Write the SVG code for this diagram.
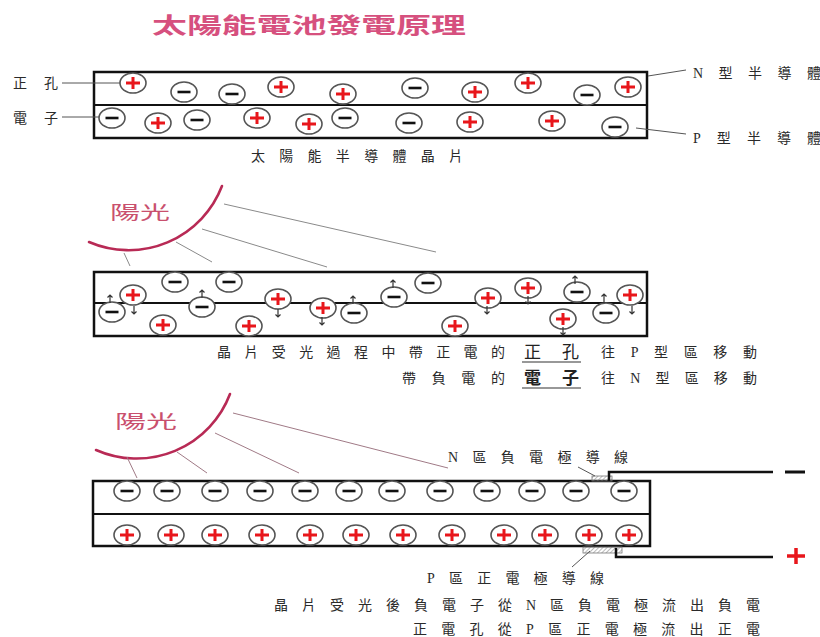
<svg xmlns="http://www.w3.org/2000/svg" xmlns:xlink="http://www.w3.org/1999/xlink" width="820" height="637" viewBox="0 0 820 637">
  <style>
    .box { fill: none; stroke: #111; stroke-width: 2.5; }
    .div { stroke: #111; stroke-width: 2; }
    .lead { stroke: #555; stroke-width: 1; fill: none; }
    .ray { stroke: #8a8a8a; stroke-width: 1; }
    .ray2 { stroke: #a07a86; stroke-width: 1; }
    .sun { fill: none; stroke: #b82a55; stroke-width: 2.6; stroke-linecap: round; }
    .sunlabel { font-family: "Noto Sans CJK TC", "Liberation Sans", sans-serif; font-size: 18px; fill: #c9506e; }
    .t { font-family: "Liberation Serif", "Noto Sans CJK TC", serif; font-size: 14px; fill: #2a2a2a; }
    .big { font-family: "Noto Sans CJK TC", sans-serif; font-size: 17px; fill: #222; }
    .ul { stroke: #333; stroke-width: 1.2; }
    .wire { fill: none; stroke: #111; stroke-width: 2.5; }
    .hatchbox { fill: url(#hatch); stroke: #777; stroke-width: 0.8; }
  </style>
  <defs>
    <pattern id="hatch" width="3" height="3" patternUnits="userSpaceOnUse" patternTransform="rotate(45)">
      <line x1="0" y1="0" x2="0" y2="3" stroke="#777" stroke-width="1"/>
    </pattern>
    <!-- hole (positive charge) -->
    <g id="pos">
      <ellipse rx="13" ry="10" fill="#fff" stroke="#555" stroke-width="1.6"/>
      <path d="M-7,0H7M0,-6V6" stroke="#e8161b" stroke-width="3"/>
    </g>
    <!-- electron (negative charge) -->
    <g id="neg">
      <ellipse rx="13" ry="10" fill="#fff" stroke="#555" stroke-width="1.6"/>
      <path d="M-6.5,0H6.5" stroke="#111" stroke-width="2.6"/>
    </g>
    <path id="up" d="M0,4V-4M-2.5,-1.5L0,-4L2.5,-1.5" fill="none" stroke="#333" stroke-width="1.2"/>
    <path id="down" d="M0,-4V4M-2.5,1.5L0,4L2.5,1.5" fill="none" stroke="#333" stroke-width="1.2"/>
  </defs>

  <rect width="820" height="637" fill="#fff"/>

  <!-- heading -->
  <g id="title">
    <text x="152" y="33" textLength="314" lengthAdjust="spacingAndGlyphs" font-family="Noto Sans CJK TC, sans-serif" font-size="22" font-weight="bold" fill="#d6507e">太陽能電池發電原理</text>
  </g>

  <!-- panel 1: wafer at rest -->
  <g id="wafer1">
    <rect class="box" x="94" y="72" width="553" height="66"/>
    <line class="div" x1="94" y1="105" x2="647" y2="105"/>
    <use href="#pos" x="133" y="83"/>
    <use href="#neg" x="184" y="92"/>
    <use href="#neg" x="232" y="94"/>
    <use href="#pos" x="281" y="87"/>
    <use href="#pos" x="343" y="94"/>
    <use href="#neg" x="415" y="88"/>
    <use href="#pos" x="475" y="92"/>
    <use href="#pos" x="528" y="83"/>
    <use href="#neg" x="587" y="95"/>
    <use href="#pos" x="628" y="87"/>
    <use href="#neg" x="112" y="118"/>
    <use href="#pos" x="158" y="123"/>
    <use href="#neg" x="197" y="120"/>
    <use href="#pos" x="257" y="118"/>
    <use href="#pos" x="309" y="124"/>
    <use href="#neg" x="345" y="118"/>
    <use href="#neg" x="409" y="123"/>
    <use href="#pos" x="470" y="122"/>
    <use href="#pos" x="552" y="121"/>
    <use href="#neg" x="615" y="127"/>
  </g>
  <g id="label-hole"><text class="t" x="13" y="88" textLength="45" lengthAdjust="spacing" font-size="15">正孔</text></g>
  <g id="label-electron"><text class="t" x="13" y="123" textLength="45" lengthAdjust="spacing" font-size="15">電子</text></g>
  <g id="label-n"><text class="t" x="693" y="78" textLength="128" lengthAdjust="spacing" font-size="15">N型半導體</text></g>
  <g id="label-p"><text class="t" x="693" y="143" textLength="128" lengthAdjust="spacing" font-size="15">P型半導體</text></g>
  <g id="caption1"><text class="t" x="251" y="161" textLength="212" lengthAdjust="spacing">太陽能半導體晶片</text></g>

  <!-- panel 2: carriers moving under light -->
  <g id="sun1">
    <path class="sun" d="M89,242 A100,100 0 0 0 222,186"/>
    <text class="sunlabel" x="110" y="219" textLength="60" lengthAdjust="spacingAndGlyphs">陽光</text>
    <line class="ray" x1="224" y1="204" x2="436" y2="252"/>
    <line class="ray" x1="202" y1="229" x2="327" y2="267"/>
    <line class="ray" x1="176" y1="242" x2="212" y2="262"/>
    <line class="ray" x1="124" y1="253" x2="130" y2="266"/>
  </g>
  <g id="wafer2">
    <rect class="box" x="94" y="272" width="553" height="64"/>
    <line class="div" x1="94" y1="303" x2="647" y2="303"/>
    <use href="#neg" x="175" y="282"/>
    <use href="#neg" x="229" y="282"/>
    <use href="#neg" x="202" y="307"/>
    <use href="#neg" x="112" y="312"/>
    <use href="#neg" x="354" y="313"/>
    <use href="#neg" x="394" y="297"/>
    <use href="#neg" x="428" y="283"/>
    <use href="#neg" x="577" y="292"/>
    <use href="#neg" x="606" y="313"/>
    <use href="#pos" x="133" y="295"/>
    <use href="#pos" x="278" y="299"/>
    <use href="#pos" x="323" y="308"/>
    <use href="#pos" x="163" y="325"/>
    <use href="#pos" x="249" y="326"/>
    <use href="#pos" x="455" y="326"/>
    <use href="#pos" x="488" y="298"/>
    <use href="#pos" x="528" y="288"/>
    <use href="#pos" x="563" y="319"/>
    <use href="#pos" x="630" y="295"/>
    <use href="#up" x="110" y="299"/>
    <use href="#up" x="202" y="294"/>
    <use href="#up" x="353" y="300"/>
    <use href="#up" x="393" y="284"/>
    <use href="#up" x="575" y="280"/>
    <use href="#up" x="604" y="298"/>
    <use href="#down" x="134" y="310"/>
    <use href="#down" x="278" y="313"/>
    <use href="#down" x="322" y="321"/>
    <use href="#down" x="487" y="310"/>
    <use href="#down" x="528" y="300"/>
    <use href="#down" x="563" y="331"/>
    <use href="#down" x="632" y="310"/>
  </g>
  <g id="caption2">
    <text class="t" x="217" y="357" textLength="288" lengthAdjust="spacing">晶片受光過程中帶正電的</text>
    <text class="big" x="524" y="358" textLength="55" lengthAdjust="spacing">正孔</text>
    <line class="ul" x1="522" y1="362" x2="581" y2="362"/>
    <text class="t" x="601" y="357" textLength="156" lengthAdjust="spacing">往P型區移動</text>
    <text class="t" x="402" y="383" textLength="103" lengthAdjust="spacing">帶負電的</text>
    <text class="big" x="524" y="384" textLength="55" lengthAdjust="spacing" font-weight="bold">電子</text>
    <line class="ul" x1="522" y1="388" x2="581" y2="388"/>
    <text class="t" x="601" y="383" textLength="156" lengthAdjust="spacing">往N型區移動</text>
  </g>

  <!-- panel 3: separated charges and electrodes -->
  <g id="sun2">
    <path class="sun" d="M96,450 A100,100 0 0 0 230,394"/>
    <text class="sunlabel" x="115" y="428" textLength="62" lengthAdjust="spacingAndGlyphs">陽光</text>
    <line class="ray2" x1="233" y1="413" x2="448" y2="468"/>
    <line class="ray2" x1="215" y1="433" x2="299" y2="473"/>
    <line class="ray2" x1="177" y1="452" x2="207" y2="473"/>
    <line class="ray2" x1="127" y1="457" x2="137" y2="478"/>
  </g>
  <g id="wafer3">
    <rect class="box" x="93" y="481" width="557" height="65"/>
    <line class="div" x1="93" y1="514" x2="650" y2="514"/>
    <use href="#neg" x="127" y="491"/>
    <use href="#neg" x="167" y="491"/>
    <use href="#neg" x="215" y="491"/>
    <use href="#neg" x="260" y="491"/>
    <use href="#neg" x="305" y="491"/>
    <use href="#neg" x="349" y="491"/>
    <use href="#neg" x="392" y="491"/>
    <use href="#neg" x="440" y="491"/>
    <use href="#neg" x="487" y="491"/>
    <use href="#neg" x="532" y="491"/>
    <use href="#neg" x="576" y="491"/>
    <use href="#neg" x="624" y="491"/>
    <use href="#pos" x="127" y="535"/>
    <use href="#pos" x="171" y="535"/>
    <use href="#pos" x="215" y="535"/>
    <use href="#pos" x="262" y="535"/>
    <use href="#pos" x="310" y="535"/>
    <use href="#pos" x="356" y="535"/>
    <use href="#pos" x="403" y="535"/>
    <use href="#pos" x="452" y="535"/>
    <use href="#pos" x="504" y="535"/>
    <use href="#pos" x="545" y="535"/>
    <use href="#pos" x="589" y="535"/>
    <use href="#pos" x="629" y="535"/>
  </g>
  <g id="electrode-n">
    <rect class="hatchbox" x="592" y="476" width="20" height="5"/>
    <path class="wire" d="M609,481 V472 H773"/>
    <line x1="785" y1="472" x2="805" y2="472" stroke="#111" stroke-width="3"/>
    <text class="t" x="448" y="462" textLength="180" lengthAdjust="spacing">N區負電極導線</text>
  </g>
  <g id="electrode-p">
    <rect class="hatchbox" x="583" y="547" width="39" height="6"/>
    <path class="wire" d="M616,548 V557 H773" stroke-width="2.5"/>
    <path d="M787,556H805M796,548V564" stroke="#e8161b" stroke-width="3.5"/>
    <text class="t" x="427" y="583" textLength="177" lengthAdjust="spacing">P區正電極導線</text>
  </g>
  <g id="caption3">
    <text class="t" x="274" y="610" textLength="486" lengthAdjust="spacing">晶片受光後負電子從N區負電極流出負電</text>
    <text class="t" x="413" y="634" textLength="347" lengthAdjust="spacing">正電孔從P區正電極流出正電</text>
  </g>

  <!-- leader lines -->
  <g id="connectors">
    <line class="lead" x1="62" y1="83" x2="120" y2="83"/>
    <line class="lead" x1="62" y1="117" x2="99" y2="117"/>
    <line class="lead" x1="648" y1="76" x2="686" y2="70"/>
    <line class="lead" x1="636" y1="128" x2="686" y2="134"/>
    <line class="lead" x1="578" y1="467" x2="595" y2="476"/>
    <line class="lead" x1="590" y1="551" x2="572" y2="567"/>
  </g>
</svg>
